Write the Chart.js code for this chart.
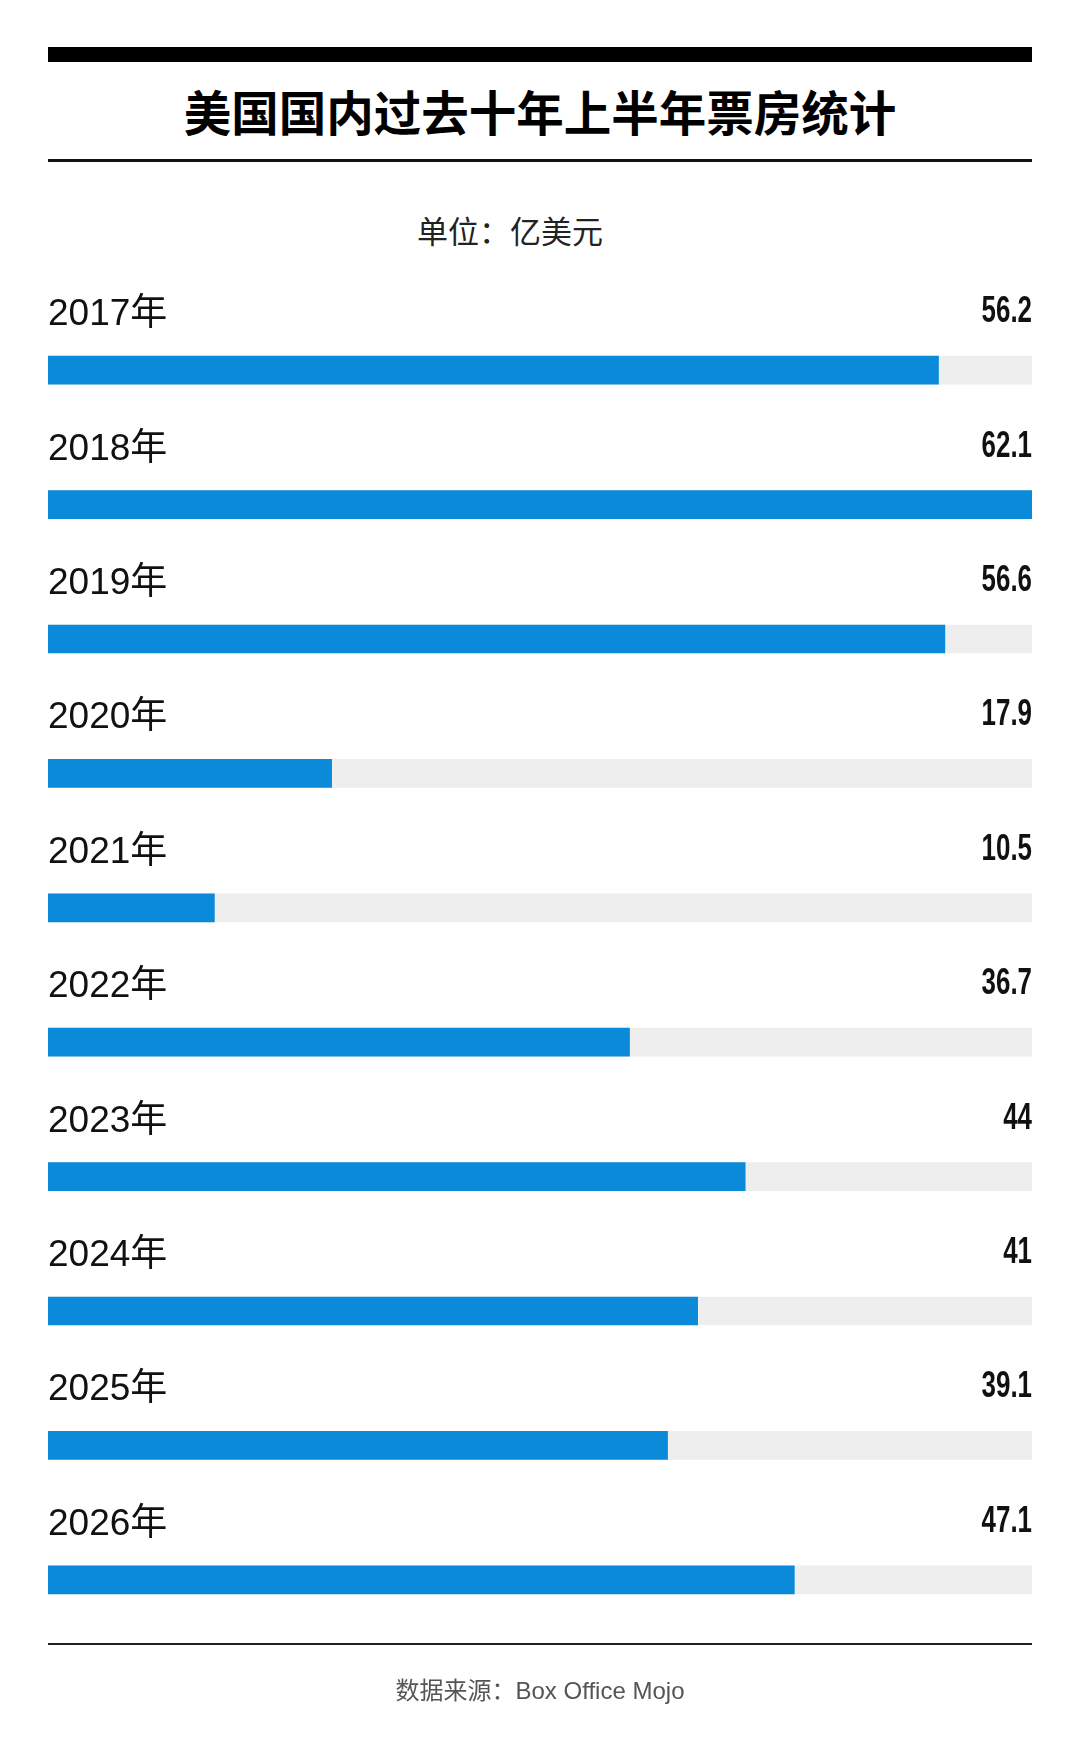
<!DOCTYPE html>
<html lang="zh-CN">
<head>
<meta charset="utf-8">
<script src="https://cdn.jsdelivr.net/npm/chart.js@4/dist/chart.umd.min.js"></script>
<style>
  html, body { margin: 0; padding: 0; background: #fff; }
  body { width: 1080px; height: 1752px; position: relative; overflow: hidden; }
  .rule { position: absolute; left: 48px; width: 984px; background: #000; }
  .txt { position: absolute; white-space: nowrap; font-family: "Noto Sans CJK SC", "Noto Sans", sans-serif; }
  #chartWrap { position: absolute; left: 0; top: 0; width: 1080px; height: 1752px; }
</style>
</head>
<body>
<div class="rule" style="top:47px;height:15px;"></div>
<div class="txt" style="top:80px;left:0;width:1080px;text-align:center;line-height:62px;">
  <span id="title" style="font-size:46px;font-weight:700;color:#000;">美国国内过去十年上半年票房统计</span>
</div>
<div class="rule" style="top:159px;height:3px;background:#111;"></div>
<div class="txt" style="top:210px;left:415px;width:190px;text-align:center;font-size:31px;color:#222;line-height:40px;">单位：亿美元</div>

<div id="chartWrap"><canvas id="boxChart"></canvas></div>

<div class="rule" style="top:1643px;height:2px;background:#222;"></div>
<div class="txt" style="top:1673px;left:0;width:1080px;text-align:center;font-size:24px;color:#555;line-height:32px;">数据来源：<span style="font-family:'Liberation Sans',sans-serif;">Box Office Mojo</span></div>

<script>
// 年份與票房（亿美元）
const years = ["2017年", "2018年", "2019年", "2020年", "2021年", "2022年", "2023年", "2024年", "2025年", "2026年"];
const grossValues = [56.2, 62.1, 56.6, 17.9, 10.5, 36.7, 44, 41, 39.1, 47.1];
const axisMax = 62.1;

const barBlue = "#0a8ad8";
const trackGrey = "#eeeeee";

// 標題寬度對齊原圖（約 710px）
const titleEl = document.getElementById("title");
const w = titleEl.getBoundingClientRect().width;
if (w > 0) titleEl.style.fontSize = (46 * 712 / w).toFixed(1) + "px";

// 每列上方的年份（左）與數值（右）
const rowLabels = {
  id: "rowLabels",
  afterDatasetsDraw(chart) {
    const ctx = chart.ctx;
    const meta = chart.getDatasetMeta(0);
    const area = chart.chartArea;
    ctx.save();
    meta.data.forEach((bar, i) => {
      const y = bar.y;
      ctx.fillStyle = "#111";
      ctx.textAlign = "left";
      ctx.textBaseline = "alphabetic";
      ctx.font = '37px "Liberation Sans", "Noto Sans CJK SC", sans-serif';
      ctx.fillText(years[i], area.left, y - 45);

      // 數值用窄體：橫向壓縮
      ctx.save();
      ctx.translate(area.right, y - 48);
      ctx.scale(0.7, 1);
      ctx.textAlign = "right";
      ctx.font = 'bold 37px "Liberation Sans", sans-serif';
      ctx.fillText(String(grossValues[i]), 0, 0);
      ctx.restore();
    });
    ctx.restore();
  },
};

new Chart(document.getElementById("boxChart"), {
  type: "bar",
  data: {
    labels: years,
    datasets: [
      {
        data: grossValues,
        backgroundColor: barBlue,
        barThickness: 28,
        grouped: false,
      },
      {
        data: years.map(() => axisMax),
        backgroundColor: trackGrey,
        barThickness: 28,
        grouped: false,
      },
    ],
  },
  options: {
    indexAxis: "y",
    responsive: true,
    maintainAspectRatio: false,
    animation: false,
    layout: { padding: { left: 48, right: 48, top: 303, bottom: 105 } },
    plugins: {
      legend: { display: false },
      tooltip: { enabled: false },
    },
    scales: {
      x: { display: false, min: 0, max: axisMax },
      y: { display: false, offset: true },
    },
  },
  plugins: [rowLabels],
});
</script>
</body>
</html>
